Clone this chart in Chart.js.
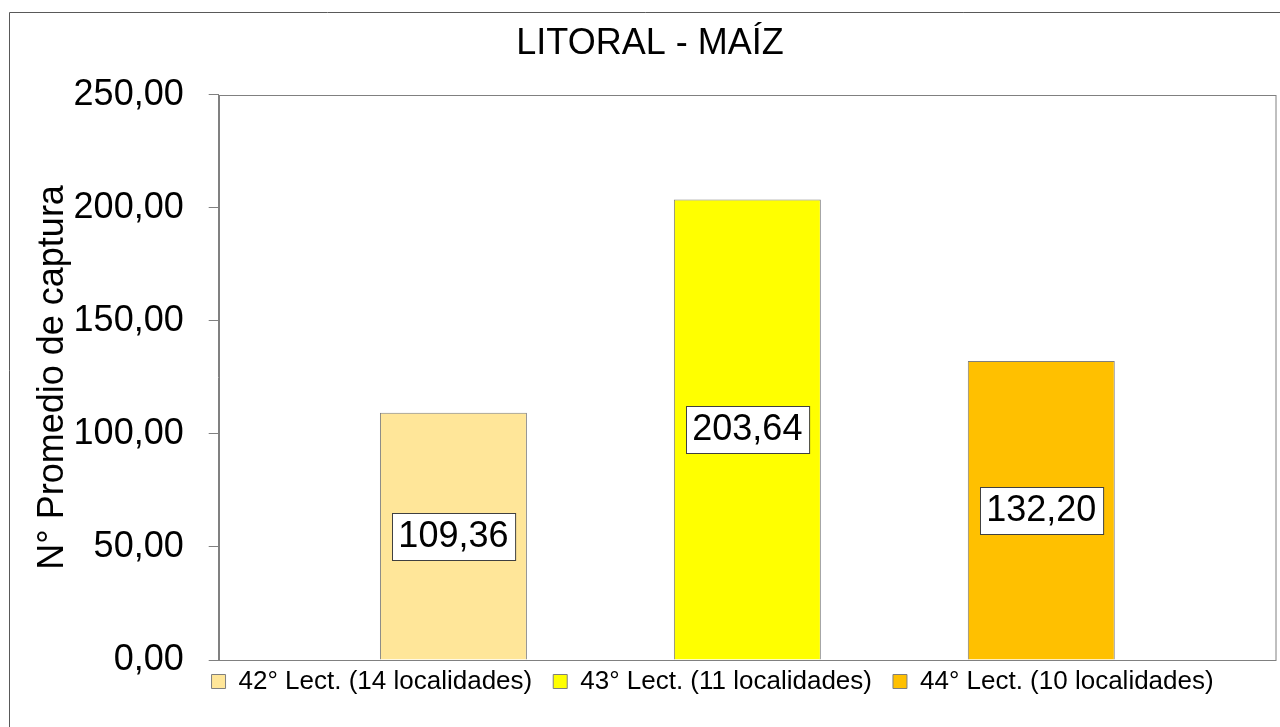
<!DOCTYPE html>
<html>
<head>
<meta charset="utf-8">
<title>LITORAL - MAÍZ</title>
<script src="https://cdn.jsdelivr.net/npm/chart.js@4/dist/chart.umd.min.js"></script>
<style>
  html, body { margin: 0; padding: 0; background: #ffffff; }
  #wrap { width: 1280px; height: 727px; position: relative; }
</style>
</head>
<body>
<div id="wrap"><canvas id="c" width="1280" height="727"></canvas></div>
<script>
// ---- data ----
const chartTitle = 'LITORAL - MAÍZ';
const yAxisTitle = 'N° Promedio de captura';
const categories = [''];
const seriesNames = ['42° Lect. (14 localidades)', '43° Lect. (11 localidades)', '44° Lect. (10 localidades)'];
const seriesValues = [109.36, 203.64, 132.20];
const seriesColors = ['#FFE699', '#FFFF00', '#FFC000'];
const yTickLabels = ['0,00', '50,00', '100,00', '150,00', '200,00', '250,00'];
const yMin = 0, yMax = 250, yStep = 50;

const FONT = "'Liberation Sans', Arial, Helvetica, sans-serif";
Chart.defaults.font.family = FONT;
Chart.defaults.color = '#000000';

const fmt = v => v.toFixed(2).replace('.', ',');

const datasets = seriesNames.map((name, i) => ({
  label: name,
  data: [seriesValues[i]],
  backgroundColor: seriesColors[i],
  borderColor: '#7F7F7F',
  borderWidth: 1,
  categoryPercentage: 0.834,
  barPercentage: 0.5
}));

// frame + plot border + value boxes
const decor = {
  id: 'decor',
  beforeDraw(chart) {
    const ctx = chart.ctx;
    ctx.save();
    ctx.fillStyle = '#ffffff';
    ctx.fillRect(0, 0, chart.width, chart.height);
    ctx.strokeStyle = '#595959';
    ctx.lineWidth = 1;
    ctx.beginPath();
    ctx.moveTo(9.5, chart.height + 2);
    ctx.lineTo(9.5, 12.5);
    ctx.lineTo(chart.width + 2, 12.5);
    ctx.stroke();
    ctx.restore();
  },
  afterLayout(chart) {
    const lg = chart.legend;
    if (lg) {
      const dx = 62.6;
      lg.left += dx; lg.right += dx;
      const h = lg.bottom - lg.top;
      lg.top = 647.5; lg.bottom = lg.top + h;
    }
  },
  afterDatasetsDraw(chart) {
    const ctx = chart.ctx;
    const a = chart.chartArea;
    ctx.save();
    ctx.strokeStyle = '#808080';
    ctx.lineWidth = 1;
    ctx.strokeRect(Math.round(a.left) + 0.5, Math.round(a.top) + 0.5,
                   Math.round(a.right - a.left) - 0.5, Math.round(a.bottom - a.top));
    ctx.font = '36px ' + FONT;
    ctx.textAlign = 'center';
    ctx.textBaseline = 'middle';
    chart.data.datasets.forEach((ds, di) => {
      const meta = chart.getDatasetMeta(di);
      meta.data.forEach((bar, j) => {
        const txt = fmt(ds.data[j]);
        const w = ctx.measureText(txt).width + 13;
        const h = 47;
        const cx = bar.x;
        const cy = (bar.y + bar.base) / 2;
        const x0 = Math.round(cx - w / 2) + 0.5;
        const y0 = Math.round(cy - h / 2) + 0.5;
        ctx.fillStyle = '#ffffff';
        ctx.fillRect(x0, y0, w, h);
        ctx.strokeStyle = '#404040';
        ctx.strokeRect(x0, y0, w, h);
        ctx.fillStyle = '#000000';
        ctx.fillText(txt, cx, cy + 1);
      });
    });
    ctx.restore();
  }
};

new Chart(document.getElementById('c'), {
  type: 'bar',
  data: { labels: categories, datasets },
  plugins: [decor],
  options: {
    responsive: false,
    animation: false,
    layout: { padding: { left: 24, right: 4, top: 0, bottom: 10 } },
    plugins: {
      title: {
        display: true,
        text: chartTitle,
        color: '#000000',
        font: { size: 36, weight: 'normal', family: FONT },
        padding: { top: 22, bottom: 29.6 }
      },
      legend: {
        display: true,
        position: 'bottom',
        labels: {
          color: '#000000',
          font: { size: 26, family: FONT },
          boxWidth: 14,
          boxHeight: 14,
          padding: 21
        }
      },
      tooltip: { enabled: false }
    },
    scales: {
      x: {
        display: false,
        offset: true
      },
      y: {
        min: yMin,
        max: yMax,
        afterFit(scale) { scale.width = 194.7; },
        ticks: {
          stepSize: yStep,
          padding: 25,
          color: '#000000',
          font: { size: 36, family: FONT },
          callback: (v, i) => yTickLabels[i]
        },
        grid: {
          display: true,
          drawOnChartArea: false,
          drawTicks: true,
          tickLength: 10,
          color: '#808080'
        },
        border: { display: true, color: '#808080' },
        title: {
          display: true,
          text: yAxisTitle,
          color: '#000000',
          font: { size: 36, family: FONT },
          padding: { top: 7.4, bottom: 0 }
        }
      }
    }
  }
});
</script>
</body>
</html>
